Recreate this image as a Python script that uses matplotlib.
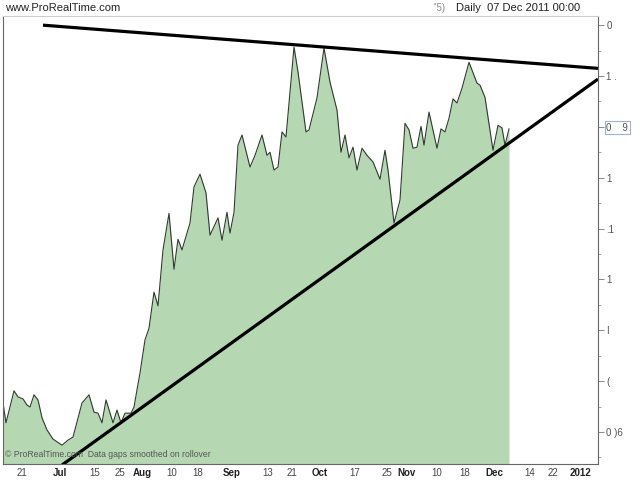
""" daily close with two trend lines, ProRealTime style """

import matplotlib
matplotlib.use("Agg")
import matplotlib.pyplot
import numpy

# bar index (trading days) and close
bars = [0, 0.75, 2.75, 3.75, 5, 6, 6.75, 7.75, 8.75, 9.75, 11, 12.5, 14.75, 16.25,
        17.5, 19.75, 21.5, 22.75, 23.75, 24.75, 25.75, 27.5, 28.5, 29.5, 30.5, 32,
        32.75, 33.5, 34.25, 35.5, 36.5, 37.75, 38.75, 40, 41.5, 42.75, 43.75, 44.75,
        46.75, 47.75, 49.25, 50.75, 51.75, 53.75, 54.75, 56, 56.75, 57.75, 58.75,
        59.75, 61.75, 63, 64.75, 66, 66.75, 67.75, 68.75, 69.75, 70.75, 72.75, 73.75,
        75.75, 76.5, 78.5, 80.25, 81.75, 83.5, 84.5, 85.5, 86.5, 87.5, 88.5, 89.75,
        91, 92.5, 94.25, 95.5, 96.25, 97.75, 99.25, 100.5, 101.5, 102.5, 103.5,
        104.5, 105.25, 106.5, 108.5, 109.5, 110.5, 111.5, 112.5, 113.5, 114.75,
        116.5, 118.5, 119.25, 120.5, 122.5, 123.75, 124.75, 125.5, 126.5]
close = [0.57, 0.18, 0.81, 0.69, 0.65, 0.53, 0.49, 0.73, 0.63, 0.28, 0.04, -0.14,
         -0.26, -0.16, -0.10, 0.57, 0.73, 0.39, 0.37, 0.18, 0.63, 0.18, 0.43, 0.18,
         0.37, 0.37, 0.49, 0.83, 1.16, 1.81, 2.04, 2.75, 2.48, 3.58, 4.30, 3.20,
         3.79, 3.58, 4.11, 4.82, 5.07, 4.70, 3.87, 4.21, 3.77, 4.32, 3.91, 4.32,
         5.64, 5.84, 5.21, 5.44, 5.84, 5.44, 5.50, 5.15, 5.21, 5.90, 5.80, 7.57,
         7.08, 5.90, 5.94, 6.57, 7.55, 6.88, 6.33, 5.50, 5.84, 5.39, 5.60, 5.15,
         5.58, 5.44, 5.31, 4.97, 5.54, 5.15, 4.11, 4.56, 6.07, 5.94, 5.58, 5.60,
         6.01, 5.64, 6.29, 5.58, 5.96, 5.90, 6.17, 6.55, 6.47, 6.76, 7.27, 6.86,
         6.82, 6.58, 5.54, 6.03, 5.98, 5.64, 5.96]

# trend line anchors
upper_x = [10, 148.75]
upper_y = [8.00, 7.15]
lower_x = [14.75, 148.75]
lower_y = [-0.65, 6.94]

# axis labels
xtick_pos = [4.75, 14.25, 23, 29.25, 34.75, 42.25, 48.75, 57.25, 66.25, 72.25,
             79.25, 88, 96, 100.75, 108.5, 115.5, 122.75, 131.75, 137.5, 144.25]
xtick_labels = ["21", "Jul", "15", "25", "Aug", "10", "18", "Sep", "13", "21",
                "Oct", "17", "25", "Nov", "10", "18", "Dec", "14", "22", "2012"]
ytick_pos = [0, 1, 2, 3, 4, 5, 6, 7, 8]
ytick_labels = ["0 )6", "(", "I", "1", ".1", "1", "0    9", "1 .", "0"]

matplotlib.rcParams["font.family"] = ["Liberation Sans", "DejaVu Sans"]

fig = matplotlib.pyplot.figure(figsize=(6.4, 4.8), dpi=100)
ax = fig.add_axes([3 / 640, 16 / 480, 595 / 640, 448 / 480])

ymin, ymax = -0.63, 8.18
ax.fill_between(bars, close, ymin - 1, color="#b5d8b3", linewidth=0)
ax.plot(bars, close, color="#303a30", linewidth=0.8)
ax.plot(upper_x, upper_y, color="black", linewidth=2.3, solid_capstyle="butt")
ax.plot(lower_x, lower_y, color="black", linewidth=2.3, solid_capstyle="butt")

ax.set_xlim(0, 148.75)
ax.set_ylim(ymin, ymax)

# right-hand price scale
ax.yaxis.tick_right()
ax.set_yticks(ytick_pos)
ax.set_yticklabels(ytick_labels)
ax.set_yticks([p + 0.5 for p in ytick_pos[:-1]] + [-0.5], minor=True)
ax.tick_params(axis="y", which="major", length=4, width=0.6, color="#777777",
               labelsize=7, labelcolor="#555555", pad=2)
ax.tick_params(axis="y", which="minor", length=2.5, width=0.6, color="#999999")
for lab in ax.get_yticklabels():
    if lab.get_text().startswith("0    9"):
        lab.set_bbox(dict(boxstyle="square,pad=0.15", facecolor="white",
                          edgecolor="#9db3cc", linewidth=0.8))

ax.set_xticks(xtick_pos)
ax.set_xticklabels(xtick_labels)
ax.tick_params(axis="x", length=0, labelsize=7, labelcolor="#444444", pad=3)
for lab in ax.get_xticklabels():
    if not lab.get_text().isdigit() or lab.get_text() == "2012":
        lab.set_fontweight("bold")
        lab.set_color("#222222")

for side in ["left", "right", "bottom"]:
    ax.spines[side].set_color("#666666")
    ax.spines[side].set_linewidth(0.8)
ax.spines["top"].set_color("#cccccc")
ax.spines["top"].set_linewidth(0.8)

ax.text(0.004, 0.012, "\u00a9 ProRealTime.com  Data gaps smoothed on rollover",
        transform=ax.transAxes, fontsize=6.2, color="#555555", va="bottom")

fig.text(5 / 640, 1 - 8 / 480, "www.ProRealTime.com", fontsize=8, va="center",
         color="#222222")
fig.text(433 / 640, 1 - 8 / 480, "''5)", fontsize=7, va="center", color="#888888")
fig.text(456 / 640, 1 - 8 / 480, "Daily  07 Dec 2011 00:00", fontsize=8,
         va="center", color="#222222")

matplotlib.pyplot.savefig("out.png", dpi=100)
matplotlib.pyplot.close()
